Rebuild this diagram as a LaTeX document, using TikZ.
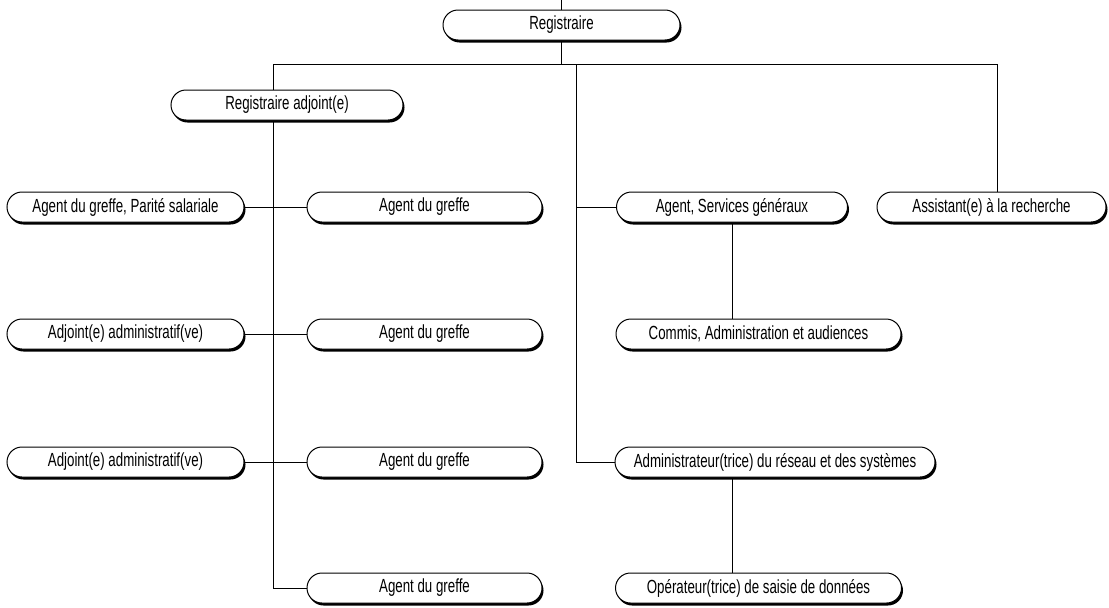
\documentclass[tikz,border=0pt]{standalone}
\usepackage{fontspec}
\newfontfamily\orgfont[FakeStretch=0.7]{Liberation Sans}
\usetikzlibrary{shadows}

\tikzset{
  poste/.style = {draw, line width = 1pt, fill = white, rounded corners = 15pt,
    minimum height = 30pt, inner sep = 0pt,
    font = \orgfont\fontsize{19}{21}\selectfont,
    drop shadow = {shadow xshift = 1.5pt, shadow yshift = -2.5pt, fill = black, opacity = 1}},
  lien/.style = {line width = 0.9pt}
}

\begin{document}
\begin{tikzpicture}[x = 1pt, y = -1pt]
      \useasboundingbox (0, 0) rectangle (1109, 608);

      % direction
      \node[poste, minimum width = 237pt] (reg) at (561.5, 25) {Registraire};
      \node[poste, minimum width = 232pt] (adj) at (287, 105) {Registraire adjoint(e)};

      % colonne de gauche
      \node[poste, minimum width = 237pt] (pa1) at (125.5, 207) {Agent du greffe, Parité salariale};
      \node[poste, minimum width = 237pt] (pa2) at (125.5, 334) {Adjoint(e) administratif(ve)};
      \node[poste, minimum width = 237pt] (pa3) at (125.5, 462) {Adjoint(e) administratif(ve)};

      \node[poste, minimum width = 235pt] (ag1) at (424.5, 207) {Agent du greffe};
      \node[poste, minimum width = 235pt] (ag2) at (424.5, 334) {Agent du greffe};
      \node[poste, minimum width = 235pt] (ag3) at (424.5, 462) {Agent du greffe};
      \node[poste, minimum width = 235pt] (ag4) at (424.5, 588) {Agent du greffe};

      % colonne de droite
      \node[poste, minimum width = 231pt] (asg) at (732, 207) {Agent, Services généraux};
      \node[poste, minimum width = 285pt] (com) at (758.5, 334) {Commis, Administration et audiences};
      \node[poste, minimum width = 320pt] (adm) at (775, 462) {Administrateur(trice) du réseau et des systèmes};
      \node[poste, minimum width = 286pt] (ope) at (758.5, 588) {Opérateur(trice) de saisie de données};
      \node[poste, minimum width = 229pt] (asr) at (991.5, 207) {Assistant(e) à la recherche};

      % liens
      \coordinate (haut) at (561, 0);
      \coordinate (busM) at (561, 64);
      \coordinate (busL) at (273, 64);
      \coordinate (busS) at (576, 64);
      \coordinate (busR) at (997, 64);

      \draw[lien] (haut) -- (reg.north -| haut);
      \draw[lien] (reg.south -| busM) -- (busM);
      \draw[lien] (busL) -- (busR);

      \draw[lien] (busL) -- (busL |- adj.north);
      \draw[lien] (busL |- adj.south) -- (busL |- ag4) -- (ag4.west);
      \draw[lien] (pa1.east) -- (ag1.west);
      \draw[lien] (pa2.east) -- (ag2.west);
      \draw[lien] (pa3.east) -- (ag3.west);

      \draw[lien] (busS) -- (busS |- adm) -- (adm.west);
      \draw[lien] (busS |- asg) -- (asg.west);
      \draw[lien] (asg.south) -- (asg.south |- com.north);
      \draw[lien] (asg.south |- adm.south) -- (asg.south |- ope.north);
      \draw[lien] (busR) -- (busR |- asr.north);
\end{tikzpicture}
\end{document}
